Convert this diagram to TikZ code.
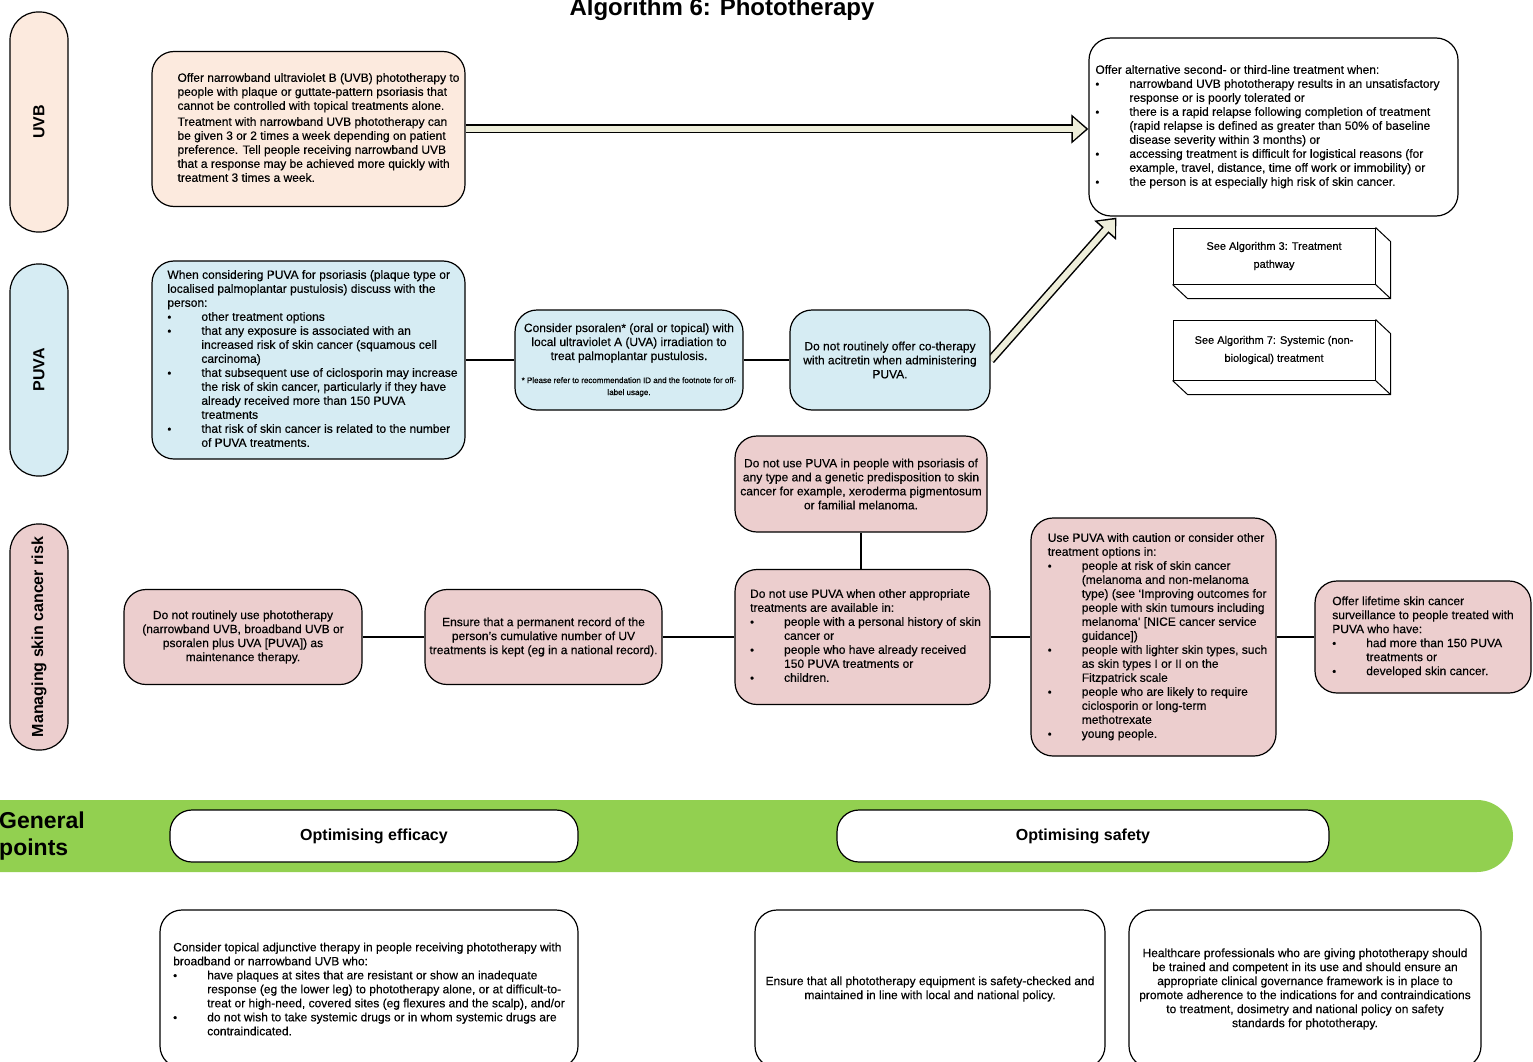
\documentclass[tikz,border=0pt]{standalone}
\usepackage{fontspec}
\usepackage{graphicx}
\setmainfont{Liberation Sans}
\newfontfamily\bodyf[FakeBold=0.3,Ligatures=TeX]{Liberation Sans}
\usetikzlibrary{arrows.meta,calc,backgrounds}
\definecolor{peach}{RGB}{252,234,222}
\definecolor{lblue}{RGB}{214,236,243}
\definecolor{lpink}{RGB}{236,206,206}
\definecolor{gpgreen}{RGB}{146,208,80}
\definecolor{cream}{RGB}{238,238,218}
\newcommand{\bl}{\makebox[34pt][l]{\fontsize{11}{11}\selectfont •}}
\newcommand{\ind}{\hspace*{34pt}}
\newcommand{\fnt}{\bodyf\fontsize{8}{12}\selectfont}
\newcommand{\mnt}{\bodyf\fontsize{12}{14}\selectfont}
\newcommand{\tb}[1]{\begin{tabular}{@{}l@{}}#1\end{tabular}}
\tikzset{
  x=1pt, y=-1pt,
  box/.style={draw, line width=1.2pt, rounded corners=22pt, inner sep=0pt, font=\mnt},
  lane/.style={draw, line width=1.2pt, rounded corners=28pt, minimum width=58pt, inner sep=0pt,
    font=\bfseries\fontsize{16}{16}\selectfont},
  link/.style={line width=1.2pt},
  arrowout/.style={line width=9pt, -{Triangle[length=17pt,width=28pt]}},
  arrowin/.style={line width=6pt, cream, shorten >=2.4pt, -{Triangle[length=13pt,width=22pt]}},
  flat/.style={draw, line width=1pt, fill=white, inner sep=0pt, minimum width=202pt, align=center,
    font=\bodyf\fontsize{11}{18}\selectfont},
  pill/.style={draw, line width=1.2pt, fill=white, rounded corners=22pt, inner sep=0pt,
    minimum height=52pt, font=\bfseries\fontsize{16}{16}\selectfont},
}
\begin{document}
\begin{tikzpicture}
\clip (0,0) rectangle (1533,1062);

% title
\node[font=\bfseries\fontsize{24}{24}\selectfont, anchor=base, inner sep=0pt] (title) at (722,16) {Algorithm 6: Phototherapy};

% lanes
\node[lane, fill=peach, minimum height=220pt] (uvbl) at (39,122) {\rotatebox{90}{UVB}};
\node[lane, fill=lblue, minimum height=212pt] (puval) at (39,370) {\rotatebox{90}{PUVA}};
\node[lane, fill=lpink, minimum height=226pt] (mgl) at (39,637) {\rotatebox{90}{Managing skin cancer risk}};

% UVB row
\node[box, fill=peach, minimum width=313pt, minimum height=155pt] (uvb) at (308.5,129) {\hspace*{20pt}\tb{%
Offer narrowband ultraviolet B (UVB) phototherapy to\\
people with plaque or guttate-pattern psoriasis that\\
cannot be controlled with topical treatments alone.\\[2pt]
Treatment with narrowband UVB phototherapy can\\
be given 3 or 2 times a week depending on patient\\
preference. Tell people receiving narrowband UVB\\
that a response may be achieved more quickly with\\
treatment 3 times a week.}};

\node[box, fill=white, minimum width=369pt, minimum height=178pt] (alt) at (1273.5,127) {\tb{%
Offer alternative second- or third-line treatment when:\\
\bl narrowband UVB phototherapy results in an unsatisfactory\\
\ind response or is poorly tolerated or\\
\bl there is a rapid relapse following completion of treatment\\
\ind (rapid relapse is defined as greater than 50\% of baseline\\
\ind disease severity within 3 months) or\\
\bl accessing treatment is difficult for logistical reasons (for\\
\ind example, travel, distance, time off work or immobility) or\\
\bl the person is at especially high risk of skin cancer.}\hspace*{12pt}};

% 3D boxes
\node[flat, minimum height=56pt] (alg3) at (1274,256) {See Algorithm 3: Treatment\\pathway};
\draw[line width=1pt] (alg3.north east) -- ++(15,14) |- ($(alg3.south west)+(15,14)$) -- (alg3.south west);
\draw[line width=1pt] (alg3.south east) -- ++(15,14);
\node[flat, minimum height=60pt] (alg7) at (1274,350) {See Algorithm 7: Systemic (non-\\biological) treatment};
\draw[line width=1pt] (alg7.north east) -- ++(15,14) |- ($(alg7.south west)+(15,14)$) -- (alg7.south west);
\draw[line width=1pt] (alg7.south east) -- ++(15,14);

% PUVA row
\node[box, fill=lblue, minimum width=313pt, minimum height=198pt] (puva) at (308.5,360) {\hspace*{8pt}\tb{%
When considering PUVA for psoriasis (plaque type or\\
localised palmoplantar pustulosis) discuss with the\\
person:\\
\bl other treatment options\\
\bl that any exposure is associated with an\\
\ind increased risk of skin cancer (squamous cell\\
\ind carcinoma)\\
\bl that subsequent use of ciclosporin may increase\\
\ind the risk of skin cancer, particularly if they have\\
\ind already received more than 150 PUVA\\
\ind treatments\\
\bl that risk of skin cancer is related to the number\\
\ind of PUVA treatments.}};

\node[box, fill=lblue, minimum width=228pt, minimum height=100pt] (psor) at (629,360) {%
\parbox{224pt}{\centering\mnt Consider psoralen* (oral or topical) with\\
local ultraviolet A (UVA) irradiation to\\
treat palmoplantar pustulosis.\par\vspace{11pt}
\fnt * Please refer to recommendation ID and the footnote for off-\\
label usage.\par}};

\node[box, fill=lblue, minimum width=200pt, minimum height=100pt, align=center] (cot) at (890,360) {%
Do not routinely offer co-therapy\\
with acitretin when administering\\
PUVA.};

\draw[link] (puva) -- (psor);
\draw[link] (psor) -- (cot);

% Managing row
\node[box, fill=lpink, minimum width=252pt, minimum height=96pt, align=center] (gen) at (861,484) {%
Do not use PUVA in people with psoriasis of\\
any type and a genetic predisposition to skin\\
cancer for example, xeroderma pigmentosum\\
or familial melanoma.};

\node[box, fill=lpink, minimum width=238pt, minimum height=95pt, align=center] (maint) at (243,637) {%
Do not routinely use phototherapy\\
(narrowband UVB, broadband UVB or\\
psoralen plus UVA [PUVA]) as\\
maintenance therapy.};

\node[box, fill=lpink, minimum width=237pt, minimum height=95pt, align=center] (rec) at (543.5,637) {%
Ensure that a permanent record of the\\
person’s cumulative number of UV\\
treatments is kept (eg in a national record).};

\node[box, fill=lpink, minimum width=255pt, minimum height=135pt] (oth) at (862.5,637) {\hspace*{6pt}\tb{%
Do not use PUVA when other appropriate\\
treatments are available in:\\
\bl people with a personal history of skin\\
\ind cancer or\\
\bl people who have already received\\
\ind 150 PUVA treatments or\\
\bl children.}};

\node[box, fill=lpink, minimum width=245pt, minimum height=238pt] (caut) at (1153.5,637) {\hspace*{8pt}\tb{%
Use PUVA with caution or consider other\\
treatment options in:\\
\bl people at risk of skin cancer\\
\ind (melanoma and non-melanoma\\
\ind type) (see ‘Improving outcomes for\\
\ind people with skin tumours including\\
\ind melanoma’ [NICE cancer service\\
\ind guidance])\\
\bl people with lighter skin types, such\\
\ind as skin types I or II on the\\
\ind Fitzpatrick scale\\
\bl people who are likely to require\\
\ind ciclosporin or long-term\\
\ind methotrexate\\
\bl young people.}};

\node[box, fill=lpink, minimum width=216pt, minimum height=112pt, align=left] (life) at (1423,637) {%
Offer lifetime skin cancer\\
surveillance to people treated with\\
PUVA who have:\\
\bl had more than 150 PUVA\\
\ind treatments or\\
\bl developed skin cancer.};

\draw[link] (gen.south) -- (gen.south |- oth.north);
\draw[link] (maint) -- (rec);
\draw[link] (rec) -- (oth);
\draw[link] (oth) -- (caut);
\draw[link] (caut) -- (life);

% General points band
\node[fill=gpgreen, rounded corners=36pt, minimum width=1563pt, minimum height=72pt, inner sep=0pt] (band) at (731.5,836) {};
\node[anchor=west, inner sep=0pt, align=left, font=\bfseries\fontsize{23}{27}\selectfont] (gp) at (-1,836) {General\\points};
\node[pill, minimum width=408pt] (eff) at (374,836) {Optimising efficacy};
\node[pill, minimum width=492pt] (saf) at (1083,836) {Optimising safety};

% bottom boxes
\node[box, fill=white, minimum width=418pt, minimum height=158pt, align=left] (bl) at (369,989) {%
Consider topical adjunctive therapy in people receiving phototherapy with\\
broadband or narrowband UVB who:\\
\bl have plaques at sites that are resistant or show an inadequate\\
\ind response (eg the lower leg) to phototherapy alone, or at difficult-to-\\
\ind treat or high-need, covered sites (eg flexures and the scalp), and/or\\
\bl do not wish to take systemic drugs or in whom systemic drugs are\\
\ind contraindicated.};

\node[box, fill=white, minimum width=350pt, minimum height=158pt, align=center] (bm) at (930,989) {%
Ensure that all phototherapy equipment is safety-checked and\\
maintained in line with local and national policy.};

\node[box, fill=white, minimum width=352pt, minimum height=158pt, align=center] (br) at (1305,989) {%
Healthcare professionals who are giving phototherapy should\\
be trained and competent in its use and should ensure an\\
appropriate clinical governance framework is in place to\\
promote adherence to the indications for and contraindications\\
to treatment, dosimetry and national policy on safety\\
standards for phototherapy.};

% big arrows
\coordinate (altin) at ($(alt.south west)+(28,1)$);
\begin{pgfonlayer}{background}
\draw[arrowout] (uvb.east) -- (uvb.east -| alt.west);
\draw[arrowin] (uvb.east) -- (uvb.east -| alt.west);
\draw[arrowout] (cot.east) -- (altin);
\draw[arrowin] (cot.east) -- (altin);
\end{pgfonlayer}
\end{tikzpicture}
\end{document}
